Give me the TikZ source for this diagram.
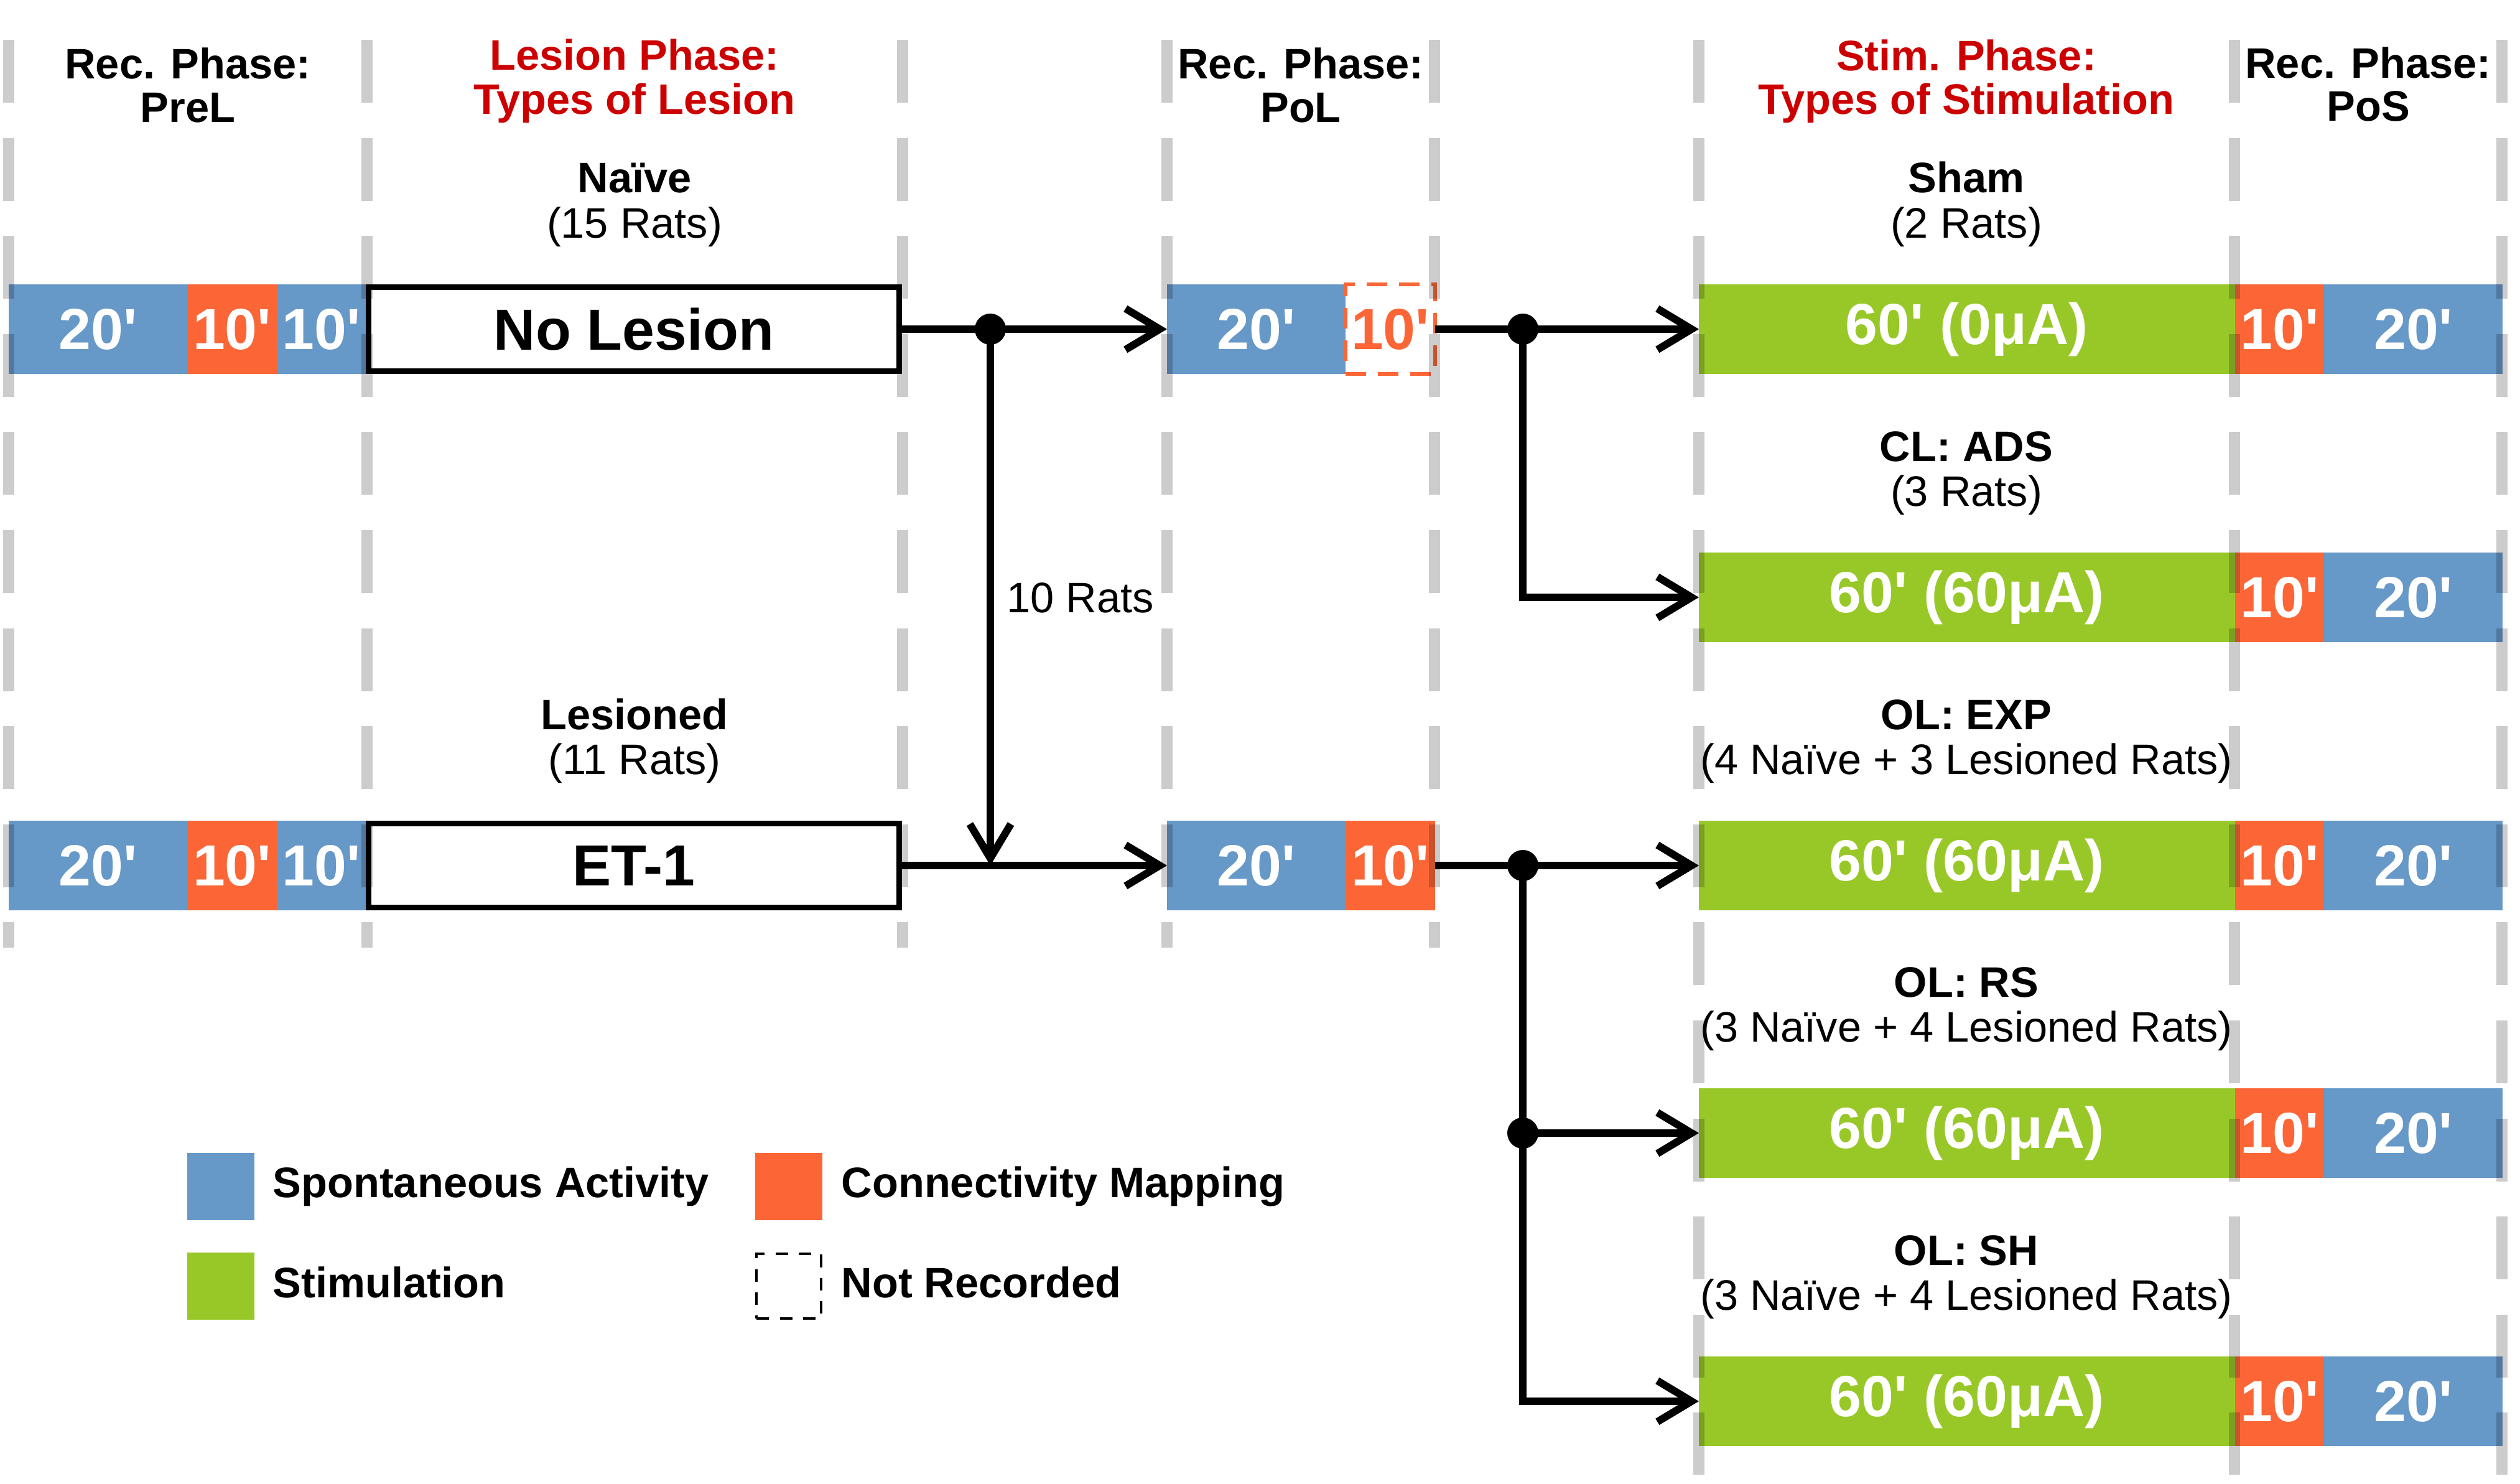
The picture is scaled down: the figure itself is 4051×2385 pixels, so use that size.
\documentclass[tikz,border=0pt]{standalone}
\usepackage{fontspec}
\newfontfamily\arial{Liberation Sans}
\usetikzlibrary{arrows.meta,positioning}

\definecolor{spontblue}{RGB}{102,152,200}
\definecolor{connorange}{RGB}{252,102,54}
\definecolor{stimgreen}{RGB}{152,200,40}
\definecolor{titlered}{RGB}{204,0,0}
\definecolor{dashgray}{RGB}{204,204,204}

\tikzset{
  seg/.style={minimum height=1.435cm, inner sep=0pt, outer sep=0pt, text=white,
    font=\arial\bfseries\fontsize{26.5}{28}\selectfont},
  spont/.style={seg, fill=spontblue},
  conn/.style={seg, fill=connorange},
  stim/.style={seg, fill=stimgreen},
  ten/.style={minimum width=1.435cm},
  twenty/.style={minimum width=2.87cm},
  sixty/.style={minimum width=8.61cm},
  lesionbox/.style={seg, draw=black, line width=0.09cm, fill=white, text=black,
    minimum width=8.52cm, minimum height=1.345cm, outer sep=0.045cm},
  hdr/.style={font=\arial\bfseries\fontsize{19.5}{20}\selectfont, inner sep=0pt, anchor=base},
  sub/.style={font=\arial\fontsize{19.5}{20}\selectfont, inner sep=0pt, anchor=base},
  arr/.style={line width=0.12cm, -{Straight Barb[length=0.55cm,width=0.66cm]}},
  dot/.style={circle, fill=black, inner sep=0pt, minimum size=0.5cm},
  phaseline/.style={draw=dashgray, line width=0.18cm, dash pattern=on 1.01cm off 0.565cm},
  swatch/.style={minimum size=1.07cm, inner sep=0pt},
}

\begin{document}
\begin{tikzpicture}[x=0.01cm, y=-0.01cm]
\useasboundingbox (0,0) rectangle (4051,2385);

% phase titles
\node[hdr] (prel1) at (302,127) {Rec. Phase:};
\node[hdr] (prel2) at (302,196) {PreL};
\node[hdr, text=titlered] (les1) at (1020,113) {Lesion Phase:};
\node[hdr, text=titlered] (les2) at (1020,183) {Types of Lesion};
\node[hdr] (pol1) at (2091,127) {Rec. Phase:};
\node[hdr] (pol2) at (2091,196) {PoL};
\node[hdr, text=titlered] (stm1) at (3161,114) {Stim. Phase:};
\node[hdr, text=titlered] (stm2) at (3161,184) {Types of Stimulation};
\node[hdr] (pos1) at (3807,126) {Rec. Phase:};
\node[hdr] (pos2) at (3807,195) {PoS};

% group labels
\foreach \xc/\yb/\grp/\rats [count=\i] in {1020/310/Naïve/15 Rats, 1020/1172/Lesioned/11 Rats,
    3161/310/Sham/2 Rats, 3161/741/CL: ADS/3 Rats, 3161/1172/OL: EXP/4 Naïve + 3 Lesioned Rats,
    3161/1602/OL: RS/3 Naïve + 4 Lesioned Rats, 3161/2033/OL: SH/3 Naïve + 4 Lesioned Rats} {
  \node[hdr] (grp\i) at (\xc,\yb) {\grp};
  \node[sub] (rats\i) at (\xc,\yb+72) {(\rats)};
}

% pre-lesion recording + lesion
\node[spont, twenty, anchor=west] (pre1a) at (14,529) {20'};
\node[conn, ten, right=0pt of pre1a] (pre1b) {10'};
\node[spont, ten, right=0pt of pre1b] (pre1c) {10'};
\node[lesionbox, right=0pt of pre1c] (nolesion) {No Lesion};

\node[spont, twenty, anchor=west] (pre2a) at (14,1391) {20'};
\node[conn, ten, right=0pt of pre2a] (pre2b) {10'};
\node[spont, ten, right=0pt of pre2b] (pre2c) {10'};
\node[lesionbox, right=0pt of pre2c] (et1) {ET-1};

% post-lesion recording
\node[spont, twenty, anchor=west] (pol1a) at (1876,529) {20'};
\node[seg, ten, right=0pt of pol1a, draw=connorange, line width=0.06cm,
  dash pattern=on 0.33cm off 0.19cm, text=connorange] (pol1b) {10'};
\node[spont, twenty, anchor=west] (pol2a) at (1876,1391) {20'};
\node[conn, ten, right=0pt of pol2a] (pol2b) {10'};

% stimulation + post-stimulation recording
\foreach \r/\yc/\amp in {1/529/0, 2/960/60, 3/1391/60, 4/1821/60, 5/2252/60} {
  \node[stim, sixty, anchor=west] (stim\r) at (2731,\yc) {60' (\amp μA)};
  \node[conn, ten, right=0pt of stim\r] (post\r-a) {10'};
  \node[spont, twenty, right=0pt of post\r-a] (post\r-b) {20'};
}

% connectors
\draw[arr] (nolesion.east) -- (pol1a.west);
\draw[arr] (et1.east) -- (pol2a.west);
\node[dot] (j1) at (1592,529) {};
\coordinate (j1end) at (1592,1391);
\draw[arr] (j1.center) -- (j1end);
\node[sub, anchor=base west] (moved) at (1618,984) {10 Rats};

\draw[arr] (pol1b.east) -- (stim1.west);
\node[dot] (j2) at (2448,529) {};
\draw[arr] (j2.center) |- (stim2.west);

\draw[arr] (pol2b.east) -- (stim3.west);
\node[dot] (j3) at (2448,1391) {};
\node[dot] (j4) at (2448,1821) {};
\draw[arr] (j3.center) |- (stim5.west);
\draw[arr] (j4.center) -- (stim4.west);

% phase borders
\begin{scope}[blend mode=multiply]
\foreach \x in {14,590,1451,1876,2306} \draw[phaseline] (\x,64) -- (\x,1523);
\foreach \x in {2731,3592,4022} \draw[phaseline] (\x,64) -- (\x,2370);
\end{scope}

% legend
\node[swatch, fill=spontblue] (swspont) at (355,1907) {};
\node[swatch, fill=connorange] (swconn) at (1268,1907) {};
\node[swatch, fill=stimgreen] (swstim) at (355,2067) {};
\node[swatch, draw=black, line width=0.04cm, dash pattern=on 0.2cm off 0.17cm,
  minimum size=1.03cm] (swnone) at (1268,2067) {};
\node[hdr, anchor=base west] (lgspont) at (438,1924) {Spontaneous Activity};
\node[hdr, anchor=base west] (lgconn) at (1352,1924) {Connectivity Mapping};
\node[hdr, anchor=base west] (lgstim) at (438,2085) {Stimulation};
\node[hdr, anchor=base west] (lgnone) at (1352,2085) {Not Recorded};

\end{tikzpicture}
\end{document}
